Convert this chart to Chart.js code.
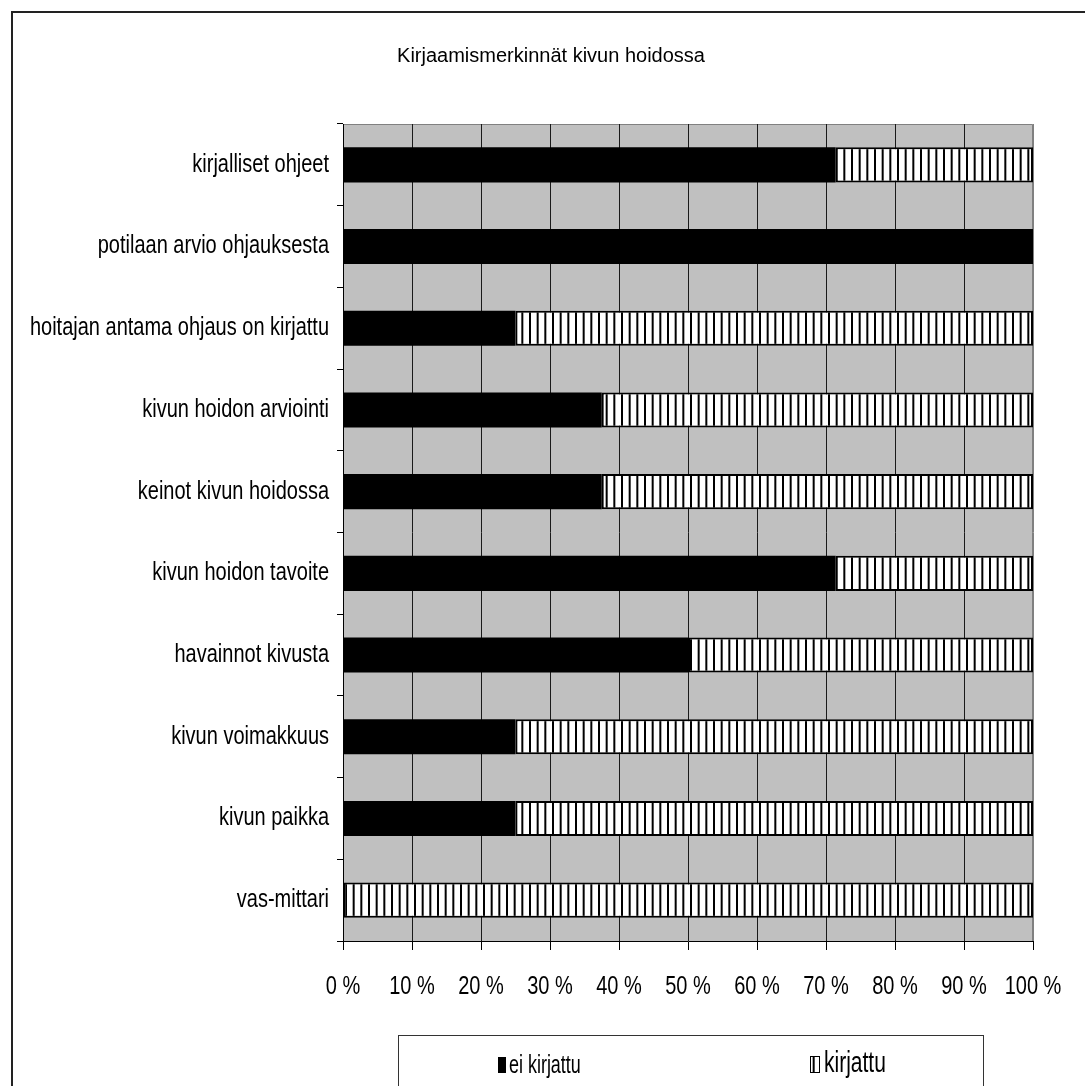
<!DOCTYPE html>
<html>
<head>
<meta charset="utf-8">
<script src="https://cdn.jsdelivr.net/npm/chart.js@4.4.1/dist/chart.umd.min.js"></script>
<style>
  html, body { margin: 0; padding: 0; background: #ffffff; }
  #wrap { width: 1085px; height: 1086px; position: relative; }
</style>
</head>
<body>
<div id="wrap"><canvas id="c" width="1085" height="1086"></canvas></div>
<script>
// Categories, top to bottom
const categories = [
  'kirjalliset ohjeet',
  'potilaan arvio ohjauksesta',
  'hoitajan antama ohjaus on kirjattu',
  'kivun hoidon arviointi',
  'keinot kivun hoidossa',
  'kivun hoidon tavoite',
  'havainnot kivusta',
  'kivun voimakkuus',
  'kivun paikka',
  'vas-mittari'
];
// Share of records (%) per category
const eiKirjattu = [71.4, 100, 25, 37.5, 37.5, 71.4, 50, 25, 25, 0];
const kirjattu   = [28.6, 0, 75, 62.5, 62.5, 28.6, 50, 75, 75, 100];
const seriesNames = ['ei kirjattu', 'kirjattu'];
const titleText = 'Kirjaamismerkinnät kivun hoidossa';
const xTicks = [0, 10, 20, 30, 40, 50, 60, 70, 80, 90, 100];

const SANS = '"Liberation Sans", Arial, sans-serif';

// Text in a horizontally condensed face: draw with an x-scale transform
function narrowText(ctx, text, x, y, size, squeeze, align) {
  ctx.save();
  ctx.font = size + 'px ' + SANS;
  ctx.textAlign = align;
  ctx.textBaseline = 'middle';
  ctx.fillStyle = '#000';
  ctx.translate(x, y);
  ctx.scale(squeeze, 1);
  ctx.fillText(text, 0, 0);
  ctx.restore();
}

// vertical stripe fill
function stripePattern() {
  const t = document.createElement('canvas');
  t.width = 23; t.height = 4;
  const g = t.getContext('2d');
  g.fillStyle = '#ffffff';
  g.fillRect(0, 0, 23, 4);
  g.fillStyle = '#000000';
  for (let i = 0; i < 3; i++) g.fillRect(i * 23 / 3, 0, 2, 4);
  return document.getElementById('c').getContext('2d').createPattern(t, 'repeat');
}
const stripes = stripePattern();

const frame = {
  id: 'frame',
  beforeDraw(chart) {
    const { ctx, chartArea: a } = chart;
    ctx.save();
    ctx.fillStyle = '#c0c0c0';
    ctx.fillRect(a.left, a.top, a.right - a.left, a.bottom - a.top);
    ctx.strokeStyle = '#808080';
    ctx.lineWidth = 1;
    ctx.beginPath();
    ctx.moveTo(a.left, a.top + 0.5);
    ctx.lineTo(a.right - 0.5, a.top + 0.5);
    ctx.lineTo(a.right - 0.5, a.bottom);
    ctx.stroke();
    // outer border
    ctx.strokeStyle = '#222222';
    ctx.lineWidth = 2;
    ctx.beginPath();
    ctx.moveTo(12, 1100);
    ctx.lineTo(12, 12);
    ctx.lineTo(1100, 12);
    ctx.stroke();
    // title
    ctx.fillStyle = '#000';
    ctx.font = '20px ' + SANS;
    ctx.textAlign = 'center';
    ctx.textBaseline = 'middle';
    ctx.fillText(titleText, 551, 56);
    ctx.restore();
  },
  afterDraw(chart) {
    const { ctx } = chart;
    const xs = chart.scales.x, ys = chart.scales.y;
    // category labels
    ys.ticks.forEach((t, i) => {
      narrowText(ctx, chart.data.labels[t.value], 329, ys.getPixelForTick(i), 25, 0.8, 'right');
    });
    // value labels
    xs.ticks.forEach((t, i) => {
      narrowText(ctx, t.value + ' %', xs.getPixelForTick(i), 987, 25, 0.8, 'center');
    });
    // legend
    const ds = chart.data.datasets;
    ctx.save();
    ctx.fillStyle = '#fff';
    ctx.fillRect(398, 1035, 585, 60);
    ctx.strokeStyle = '#333';
    ctx.lineWidth = 1;
    ctx.strokeRect(398.5, 1035.5, 585, 60);
    ctx.fillStyle = ds[0].backgroundColor;
    ctx.fillRect(498, 1057, 8, 16);
    ctx.fillStyle = ds[1].backgroundColor;
    ctx.fillRect(810, 1056, 10, 17);
    ctx.strokeStyle = '#000';
    ctx.strokeRect(810.5, 1056.5, 9, 16);
    ctx.restore();
    narrowText(ctx, ds[0].label, 509, 1066, 26, 0.69, 'left');
    narrowText(ctx, ds[1].label, 824, 1064, 30, 0.7, 'left');
  }
};

new Chart(document.getElementById('c'), {
  type: 'bar',
  data: {
    labels: categories,
    datasets: [
      { label: seriesNames[0], data: eiKirjattu, backgroundColor: '#000000', borderWidth: 0 },
      { label: seriesNames[1], data: kirjattu, backgroundColor: stripes,
        borderColor: '#000000', borderWidth: 2, borderSkipped: false }
    ]
  },
  plugins: [frame],
  options: {
    responsive: false,
    animation: false,
    indexAxis: 'y',
    devicePixelRatio: 1,
    layout: { padding: { left: 0, top: 124, right: 52, bottom: 85 } },
    datasets: { bar: { barPercentage: 0.43, categoryPercentage: 1 } },
    plugins: { legend: { display: false }, title: { display: false }, tooltip: { enabled: false } },
    scales: {
      x: {
        stacked: true,
        min: 0, max: 100,
        afterBuildTicks(s) { s.ticks = xTicks.map(v => ({ value: v })); },
        afterFit(s) { s.height = 60; },
        ticks: { display: false, autoSkip: false },
        grid: {
          color: ctx => (ctx.index === 10 ? '#808080' : '#1a1a1a'),
          lineWidth: 1,
          drawTicks: true,
          tickLength: 9,
          tickColor: '#000'
        },
        border: { display: true, color: '#000', width: 1 }
      },
      y: {
        stacked: true,
        afterFit(s) { s.width = 343; },
        ticks: { display: false, autoSkip: false },
        grid: {
          drawOnChartArea: false,
          drawTicks: true,
          tickLength: 6,
          color: '#000',
          offset: true
        },
        border: { display: true, color: '#000', width: 1 }
      }
    }
  }
});
</script>
</body>
</html>
